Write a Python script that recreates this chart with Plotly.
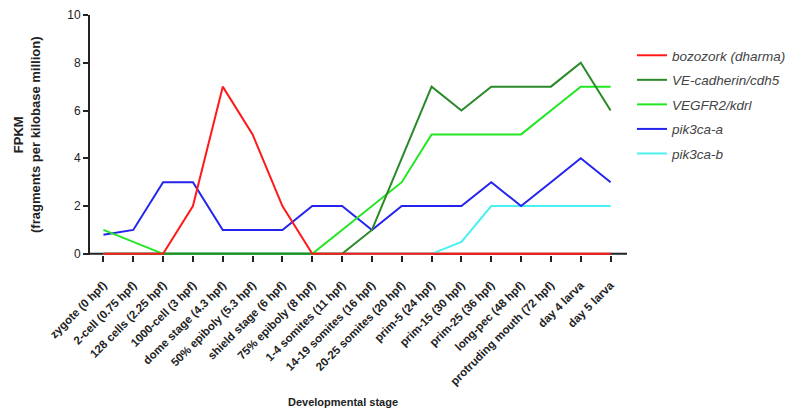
import plotly.graph_objects as go

stages = ["zygote (0 hpf)", "2-cell (0.75 hpf)", "128 cells (2.25 hpf)", "1000-cell (3 hpf)",
          "dome stage (4.3 hpf)", "50% epiboly (5.3 hpf)", "shield stage (6 hpf)",
          "75% epiboly (8 hpf)", "1-4 somites (11 hpf)", "14-19 somites (16 hpf)",
          "20-25 somites (20 hpf)", "prim-5 (24 hpf)", "prim-15 (30 hpf)", "prim-25 (36 hpf)",
          "long-pec (48 hpf)", "protruding mouth (72 hpf)", "day 4 larva", "day 5 larva"]

bozozork = [0, 0, 0, 2, 7, 5, 2, 0, 0, 0, 0, 0, 0, 0, 0, 0, 0, 0]
ve_cadherin = [0, 0, 0, 0, 0, 0, 0, 0, 0, 1, 4, 7, 6, 7, 7, 7, 8, 6]
vegfr2 = [1, 0.5, 0, 0, 0, 0, 0, 0, 1, 2, 3, 5, 5, 5, 5, 6, 7, 7]
pik3ca_a = [0.8, 1, 3, 3, 1, 1, 1, 2, 2, 1, 2, 2, 2, 3, 2, 3, 4, 3]
pik3ca_b = [0, 0, 0, 0, 0, 0, 0, 0, 0, 0, 0, 0, 0.5, 2, 2, 2, 2, 2]

series = [
    ("<i>bozozork (dharma)</i>", bozozork, "#ff1a1a"),
    ("<i>VE-cadherin/cdh5</i>", ve_cadherin, "#2a8a2a"),
    ("<i>VEGFR2/kdrl</i>", vegfr2, "#22e622"),
    ("<i>pik3ca-a</i>", pik3ca_a, "#2424ec"),
    ("<i>pik3ca-b</i>", pik3ca_b, "#4cf0f0"),
]

x = list(range(len(stages)))
fig = go.Figure()
# draw in reverse so the red series sits on top; legend rank keeps reference order
for rank, (name, vals, col) in reversed(list(enumerate(series))):
    fig.add_trace(go.Scatter(x=x, y=vals, mode="lines", name=name,
                             line=dict(color=col, width=2),
                             legendgroup=str(rank), legendrank=rank + 1, cliponaxis=False))

# the page body adds an 8px offset; plot area sits at screen x 90..627, y 15..254
OFF = 8
W, H = 794 - OFF, 412 - OFF
L, T = 90 - OFF, 15 - OFF
PW, PH = 537, 240
font = "Liberation Sans, Arial, sans-serif"
fig.update_layout(
    width=W, height=H,
    margin=dict(l=L, r=W - L - PW, t=T, b=H - T - PH, autoexpand=False),
    plot_bgcolor="white", paper_bgcolor="white",
    font=dict(family=font, color="#222"),
    showlegend=True,
    legend=dict(x=(632 - 90) / PW, y=(255 - 40) / PH, xanchor="left", yanchor="top",
                traceorder="grouped", tracegroupgap=4,
                font=dict(size=13.5, color="#444", family=font),
                bgcolor="rgba(0,0,0,0)", itemwidth=30),
    xaxis=dict(range=[-0.45, 17.55], tickmode="array", tickvals=x, ticktext=stages,
               tickangle=-45, ticks="outside", ticklen=6, tickwidth=1.5, tickcolor="#222",
               ticklabelstandoff=12,
               showline=False, showgrid=False, zeroline=False, automargin=False,
               tickfont=dict(size=11.5, color="#222", family=font, weight="bold")),
    yaxis=dict(range=[-0.05, 10], tickvals=[0, 2, 4, 6, 8, 10], ticks="outside",
               ticklen=5, tickwidth=1.5, tickcolor="#222", automargin=False,
               showline=True, linecolor="#222", linewidth=2, showgrid=False, zeroline=False,
               tickfont=dict(size=12, color="#222", family=font)),
    shapes=[dict(type="line", xref="paper", yref="y", x0=0, x1=1, y0=0, y1=0,
                 line=dict(color="#222", width=2), layer="below")],
    annotations=[
        dict(text="<b>FPKM</b><br><b>(fragments per kilobase million)</b>", xref="paper", yref="paper",
             x=(27 - 90) / PW, y=(255 - 135) / PH, xanchor="center", yanchor="middle",
             textangle=-90, showarrow=False, font=dict(size=13, color="#222", family=font)),
        dict(text="<b>Developmental stage</b>", xref="paper", yref="paper",
             x=(343 - 90) / PW, y=-(402 - 255) / PH, xanchor="center", yanchor="middle",
             showarrow=False, font=dict(size=11, color="#222", family=font)),
    ],
)

fig.write_html("out.html")
